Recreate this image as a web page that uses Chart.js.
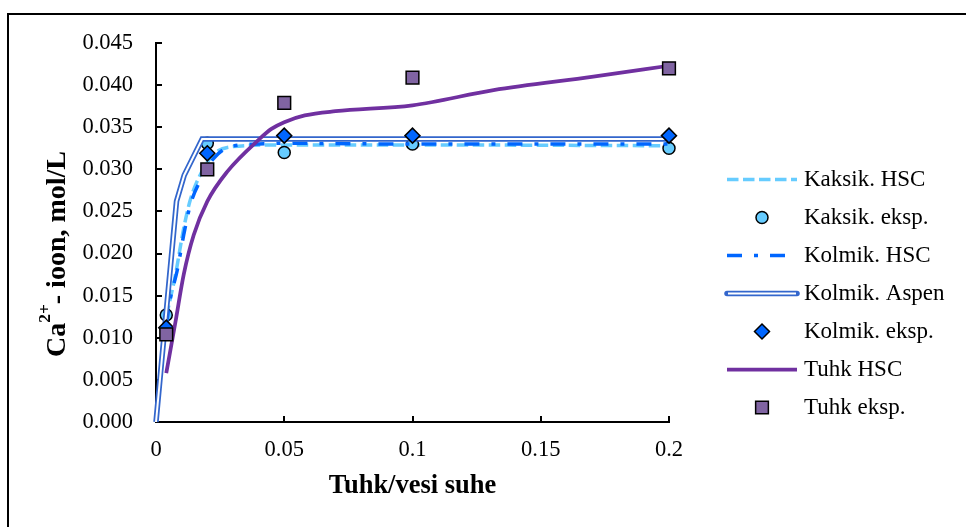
<!DOCTYPE html>
<html>
<head>
<meta charset="utf-8">
<title>Ca2+ ioon</title>
<script src="https://cdn.jsdelivr.net/npm/chart.js@4.4.1/dist/chart.umd.min.js"></script>
<style>
  html, body { margin: 0; padding: 0; background: #fff; }
  #chart { display: block; }
</style>
</head>
<body>
<canvas id="chart" width="966" height="527"></canvas>
<script>
// =============================
// DATA
// =============================
const seriesNames = ['Kaksik. HSC', 'Kaksik. eksp.', 'Kolmik. HSC', 'Kolmik. Aspen', 'Kolmik. eksp.', 'Tuhk HSC', 'Tuhk eksp.'];

// measured points (tuhk/vesi suhe)
const ratioEksp  = [0.004, 0.02, 0.05, 0.1, 0.2];
const kaksikEksp = [0.0127, 0.0331, 0.0320, 0.0330, 0.0325];
const kolmikEksp = [0.0112, 0.0319, 0.0340, 0.0340, 0.0340];
const tuhkEksp   = [0.0104, 0.0300, 0.0379, 0.0409, 0.0420];

// model curves
const kaksikHscX = [0.004, 0.0076, 0.0108, 0.0135, 0.0175, 0.0225, 0.03, 0.05, 0.1, 0.2];
const kaksikHscY = [0.0125, 0.0175, 0.0230, 0.0265, 0.0295, 0.0318, 0.0327, 0.0329, 0.0329, 0.0328];

const kolmikHscX = [0.004, 0.0056, 0.0082, 0.0108, 0.0134, 0.0173, 0.0225, 0.029, 0.04, 0.05, 0.1, 0.2];
const kolmikHscY = [0.0115, 0.0147, 0.0179, 0.0222, 0.0258, 0.0287, 0.0313, 0.0327, 0.0330, 0.0331, 0.0330, 0.0330];

const aspenX = [0, 0.008, 0.011, 0.018, 0.05, 0.1, 0.2];
const aspenY = [0, 0.0262, 0.0293, 0.0336, 0.0336, 0.0336, 0.0336];

const tuhkHscX = [0.004, 0.0076, 0.0108, 0.0147, 0.02, 0.0277, 0.0407, 0.045, 0.05, 0.058, 0.07, 0.1, 0.1316, 0.1705, 0.2];
const tuhkHscY = [0.0058, 0.0119, 0.0175, 0.0222, 0.0262, 0.0297, 0.0337, 0.0348, 0.0356, 0.0364, 0.0369, 0.0376, 0.0394, 0.0410, 0.0423];

// axes
const xTickStep = 0.05, xMax = 0.2;
const yTickStep = 0.005, yMax = 0.045;

const fontFamily = "'Liberation Serif', 'Times New Roman', serif";
Chart.defaults.font.family = fontFamily;
Chart.defaults.color = '#000';

const xy = (xs, ys) => xs.map((x, i) => ({ x, y: ys[i] }));

function curve(label, xs, ys, color, width, dash, order, extra) {
  return Object.assign({
    label,
    data: xy(xs, ys),
    showLine: true,
    pointRadius: 0,
    pointHoverRadius: 0,
    borderColor: color,
    borderWidth: width,
    borderDash: dash,
    cubicInterpolationMode: 'monotone',
    clip: false,
    order
  }, extra || {});
}

function markers(label, ys, style, radius, fill, order) {
  return {
    label,
    data: xy(ratioEksp, ys),
    showLine: false,
    pointStyle: style,
    pointRadius: radius,
    pointHoverRadius: radius,
    pointBackgroundColor: fill,
    pointBorderColor: '#000',
    pointBorderWidth: 1.5,
    backgroundColor: fill,
    borderColor: '#000',
    borderWidth: 1.5,
    clip: false,
    order
  };
}

// later series sit on top (lower order = drawn last)
const datasets = [
  curve(seriesNames[0], kaksikHscX, kaksikHscY, '#66CCFF', 3.5, [11.5, 4.5], 9),
  markers(seriesNames[1], kaksikEksp, 'circle', 6, '#66CCFF', 8),
  curve(seriesNames[2], kolmikHscX, kolmikHscY, '#0066FF', 3.5, [15, 12, 4, 12], 7),
  curve(seriesNames[3], aspenX, aspenY, '#3366CC', 5.5, [], 6, { cubicInterpolationMode: 'default', tension: 0 }),
  // white core of the double line
  curve('', aspenX, aspenY, '#FFFFFF', 2, [], 5, { cubicInterpolationMode: 'default', tension: 0, overlayOf: seriesNames[3] }),
  markers(seriesNames[4], kolmikEksp, 'rectRot', 7.5, '#0066FF', 4),
  curve(seriesNames[5], tuhkHscX, tuhkHscY, '#7030A0', 3.75, [], 3),
  markers(seriesNames[6], tuhkEksp, 'rect', 9, '#8064A2', 2)
];

// =============================
// PLUGINS
// =============================
const frameBox = {
  id: 'frameBox',
  beforeDraw(chart) {
    const ctx = chart.ctx;
    ctx.save();
    ctx.fillStyle = '#fff';
    ctx.fillRect(0, 0, chart.width, chart.height);
    ctx.strokeStyle = '#000';
    ctx.lineWidth = 2;
    ctx.strokeRect(8, 14, chart.width + 20, chart.height + 20);
    ctx.restore();
  }
};

// tick marks pointing into the plot
const innerTicks = {
  id: 'innerTicks',
  beforeDatasetsDraw(chart) {
    const { ctx, chartArea, scales: { x, y } } = chart;
    ctx.save();
    ctx.strokeStyle = '#000';
    ctx.lineWidth = 2;
    ctx.beginPath();
    x.ticks.forEach(t => {
      const px = Math.round(x.getPixelForValue(t.value));
      ctx.moveTo(px, chartArea.bottom);
      ctx.lineTo(px, chartArea.bottom - 6);
    });
    y.ticks.forEach(t => {
      const py = Math.round(y.getPixelForValue(t.value));
      ctx.moveTo(chartArea.left, py);
      ctx.lineTo(chartArea.left + 6, py);
    });
    ctx.stroke();
    ctx.restore();
  }
};

// rotated y title with superscript charge
const yTitle = {
  id: 'yTitle',
  afterDraw(chart, args, opts) {
    const ctx = chart.ctx;
    const size = opts.size;
    const parts = [
      { t: 'Ca', s: size, dy: 0 },
      { t: '2+', s: size * 0.62, dy: -size * 0.52 },
      { t: '- ioon, mol/L', s: size, dy: 0 }
    ];
    ctx.save();
    let total = 0;
    parts.forEach(p => {
      ctx.font = `bold ${p.s}px ${fontFamily}`;
      p.w = ctx.measureText(p.t).width;
      total += p.w;
    });
    ctx.translate(opts.baselineX, opts.centerY);
    ctx.rotate(-Math.PI / 2);
    ctx.fillStyle = '#000';
    ctx.textBaseline = 'alphabetic';
    ctx.textAlign = 'left';
    let u = -total / 2;
    parts.forEach(p => {
      ctx.font = `bold ${p.s}px ${fontFamily}`;
      ctx.fillText(p.t, u, p.dy);
      u += p.w;
    });
    ctx.restore();
  }
};

const sideLegend = {
  id: 'sideLegend',
  afterDraw(chart, args, opts) {
    const ctx = chart.ctx;
    const all = chart.data.datasets;
    const items = all.filter(d => !d.overlayOf);
    const midX = (opts.lineStart + opts.lineEnd) / 2;

    items.forEach((d, i) => {
      const y = opts.top + i * opts.rowGap;
      ctx.save();
      if (d.showLine) {
        const core = all.find(o => o.overlayOf === d.label);
        ctx.beginPath();
        ctx.moveTo(opts.lineStart, y);
        ctx.lineTo(opts.lineEnd, y);
        ctx.strokeStyle = d.borderColor;
        ctx.lineWidth = d.borderWidth;
        ctx.setLineDash(d.borderDash || []);
        ctx.lineCap = core ? 'round' : 'butt';
        ctx.stroke();
        if (core) {
          ctx.beginPath();
          ctx.moveTo(opts.lineStart + 1, y);
          ctx.lineTo(opts.lineEnd - 1, y);
          ctx.strokeStyle = core.borderColor;
          ctx.lineWidth = core.borderWidth;
          ctx.lineCap = 'butt';
          ctx.stroke();
        }
      } else {
        ctx.fillStyle = d.pointBackgroundColor;
        ctx.strokeStyle = d.pointBorderColor;
        ctx.lineWidth = d.pointBorderWidth;
        Chart.helpers.drawPoint(ctx, {
          pointStyle: d.pointStyle,
          radius: d.pointRadius,
          rotation: 0,
          borderWidth: d.pointBorderWidth
        }, midX, y);
      }
      ctx.setLineDash([]);
      ctx.fillStyle = '#000';
      ctx.font = `${opts.fontSize}px ${fontFamily}`;
      ctx.textBaseline = 'middle';
      ctx.textAlign = 'left';
      ctx.fillText(d.label, opts.textX, y);
      ctx.restore();
    });
  }
};

// =============================
// CHART
// =============================
const ctx = document.getElementById('chart').getContext('2d');

window.ionChart = new Chart(ctx, {
  type: 'scatter',
  data: { datasets },
  options: {
    responsive: false,
    animation: false,
    events: [],
    layout: { padding: { left: 0, top: 43, right: 297, bottom: 0 } },
    plugins: {
      legend: { display: false },
      tooltip: { enabled: false },
      yTitle: { size: 28, baselineX: 65, centerY: 254 },
      sideLegend: { top: 179.5, rowGap: 38, lineStart: 727, lineEnd: 797, textX: 804, fontSize: 23 }
    },
    scales: {
      x: {
        type: 'linear',
        min: 0,
        max: xMax,
        ticks: {
          stepSize: xTickStep,
          color: '#000',
          font: { size: 22.5 },
          padding: 15,
          maxRotation: 0,
          callback: v => String(+v.toFixed(2))
        },
        grid: { display: false, drawTicks: false },
        border: { color: '#000', width: 2 },
        title: {
          display: true,
          text: 'Tuhk/vesi suhe',
          color: '#000',
          font: { size: 26.5, weight: 'bold' },
          padding: { top: 0, bottom: 25 }
        },
        afterFit: s => { s.height = 105; }
      },
      y: {
        type: 'linear',
        min: 0,
        max: yMax,
        ticks: {
          stepSize: yTickStep,
          color: '#000',
          font: { size: 22.5 },
          padding: 23,
          callback: v => v.toFixed(3)
        },
        grid: { display: false, drawTicks: false },
        border: { color: '#000', width: 2 },
        afterFit: s => { s.width = 156; }
      }
    }
  },
  plugins: [frameBox, innerTicks, yTitle, sideLegend]
});
</script>
</body>
</html>
